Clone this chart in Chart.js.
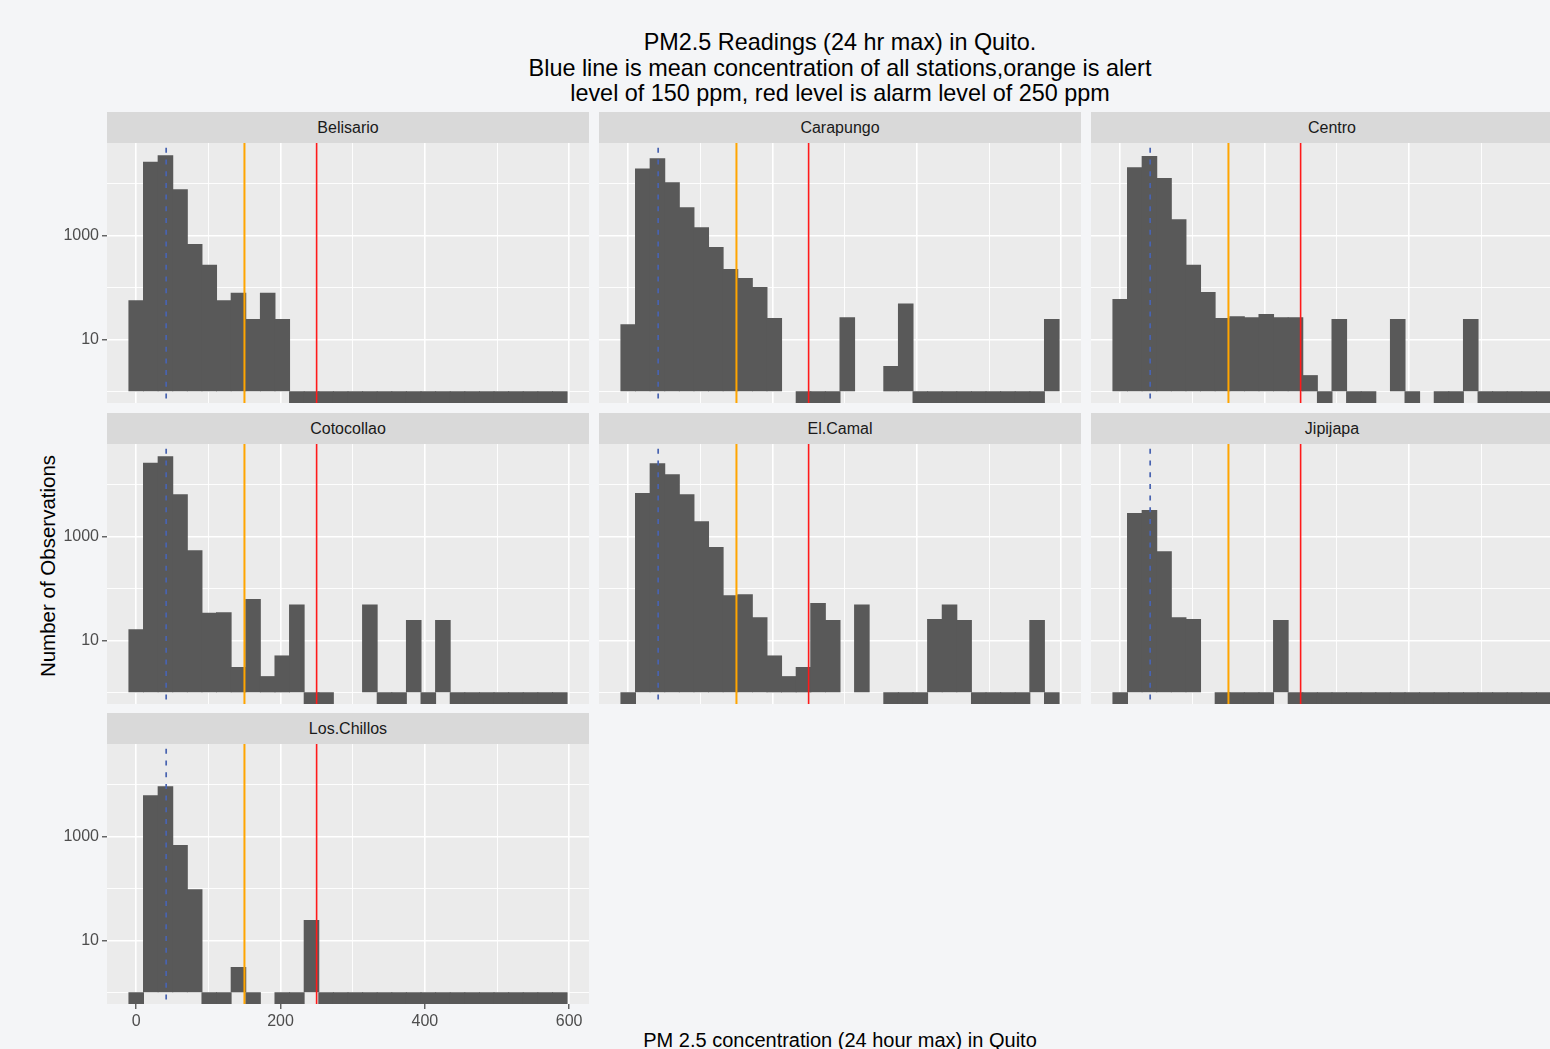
<!DOCTYPE html>
<html>
<head>
<meta charset="utf-8">
<script src="https://cdn.jsdelivr.net/npm/chart.js@4.4.1/dist/chart.umd.min.js"></script>
<style>
  html, body { margin: 0; padding: 0; background: #f4f5f7; overflow: hidden; width: 1550px; height: 1049px; }
  body { position: relative; font-family: "Liberation Sans", Arial, Helvetica, sans-serif; }
  .title { position: absolute; left: 340px; width: 1000px; top: 30px; text-align: center; font-size: 23.4px; line-height: 25.5px; color: #000; }
  .strip { position: absolute; background: #d9d9d9; color: #1a1a1a; font-size: 16px; text-align: center; white-space: nowrap; overflow: hidden; }
  .ytitle { position: absolute; width: 300px; height: 24px; line-height: 24px; text-align: center; font-size: 20.5px; color: #000; transform: rotate(-90deg); }
  .xtitle { position: absolute; width: 800px; height: 24px; line-height: 24px; text-align: center; font-size: 20px; color: #000; }
  canvas { position: absolute; }
</style>
</head>
<body>
<div class="title">PM2.5 Readings (24 hr max) in Quito.<br>Blue line is mean concentration of all stations,orange is alert<br>level of 150 ppm, red level is alarm level of 250 ppm</div>
<div class="ytitle" style="left:-102px; top:554px;">Number of Observations</div>
<div class="xtitle" style="left:440px; top:1028px;">PM 2.5 concentration (24 hour max) in Quito</div>
<div id="panels"></div>
<script>
// ---------------- data ----------------
const stations = ['Belisario', 'Carapungo', 'Centro', 'Cotocollao', 'El.Camal', 'Jipijapa', 'Los.Chillos'];

// histogram bin centres (30 bins)
const binCenters = [0, 20.2, 40.5, 60.7, 81, 101.2, 121.4, 141.7, 161.9, 182.2,
                    202.4, 222.6, 242.9, 263.1, 283.4, 303.6, 323.8, 344.1, 364.3, 384.6,
                    404.8, 425, 445.3, 465.5, 485.8, 506, 526.2, 546.5, 566.7, 587];

// counts per bin
const belisario  = [55, 25300, 34000, 7550, 662, 265, 55, 77, 24, 77, 24, 0, 0, 0, 0, 0, 0, 0, 0, 0, 0, 0, 0, 0, 0, 0, 0, 0, 0, 0];
const carapungo  = [19, 18900, 29800, 10300, 3400, 1400, 580, 219, 147, 99, 25, 1, 0, 0, 0, 26, 1, 1, 3, 48, 0, 0, 0, 0, 0, 0, 0, 0, 0, 24];
const centro     = [58, 20000, 32600, 12300, 2000, 265, 79, 25, 27, 26, 30, 26, 26, 2, 0, 24, 0, 0, 1, 24, 0, 1, 0, 0, 24, 0, 0, 0, 0, 0];
const cotocollao = [16, 25300, 34000, 6330, 530, 33, 34, 3, 61, 2, 5, 48, 0, 0, 1, 1, 48, 0, 0, 24, 0, 24, 0, 0, 0, 0, 0, 0, 0, 0];
const elCamal    = [0, 6620, 24900, 15300, 6330, 1910, 606, 72, 75, 27, 5, 2, 3, 51, 24, 1, 48, 1, 0, 0, 0, 25, 48, 24, 0, 0, 0, 0, 24, 0];
const jipijapa   = [0, 2730, 3120, 507, 27, 25, 1, 0, 0, 0, 0, 24, 0, 0, 0, 0, 0, 0, 0, 0, 0, 0, 0, 0, 0, 0, 0, 0, 0, 0];
const losChillos = [0, 6050, 9020, 662, 94, 0, 0, 3, 0, 1, 0, 0, 24, 0, 0, 0, 0, 0, 0, 0, 0, 0, 0, 0, 0, 0, 0, 0, 0, 0];
const stationCounts = [belisario, carapungo, centro, cotocollao, elCamal, jipijapa, losChillos];

// reference lines
const meanConcentration = 41.5;
const alertLevel = 150;
const alarmLevel = 250;

// tick values / labels
const yTickValues = [1, 10, 100, 1000, 10000];
const yTickLabels = ['', '10', '', '1000', ''];
const xTickValues = [0, 100, 200, 300, 400, 500, 600];
const xTickLabels = ['0', '', '200', '', '400', '', '600'];

// ---------------- layout ----------------
const FONT = '"Liberation Sans", Arial, Helvetica, sans-serif';
Chart.defaults.font.family = FONT;
const colLeft = [107, 599, 1091];
const plotTop = [143, 444, 744];
const W = 482, H = 260, YW = 50, XH = 34, STRIP = 31;
const XMIN = -40.5, XMAX = 627.5;
const YMIN = -0.225, YMAX = 4.775;

const toLog = c => c > 0 ? Math.log10(c) : YMIN;

const panelBg = {
  id: 'panelBg',
  beforeDraw(chart) {
    const { ctx, chartArea: a } = chart;
    ctx.save();
    ctx.fillStyle = '#ebebeb';
    ctx.fillRect(a.left, a.top, a.right - a.left, a.bottom - a.top);
    ctx.restore();
  }
};

const root = document.getElementById('panels');

stations.forEach((name, i) => {
  const r = Math.floor(i / 3), c = i % 3;
  const showY = c === 0;
  const showX = i === 6;

  const strip = document.createElement('div');
  strip.className = 'strip';
  strip.style.left = colLeft[c] + 'px';
  strip.style.top = (plotTop[r] - STRIP) + 'px';
  strip.style.width = W + 'px';
  strip.style.height = STRIP + 'px';
  strip.style.lineHeight = (STRIP + 1) + 'px';
  strip.textContent = name;
  root.appendChild(strip);

  const cv = document.createElement('canvas');
  const cw = W + (showY ? YW : 0);
  const ch = H + (showX ? XH : 0);
  cv.width = cw; cv.height = ch;
  cv.style.width = cw + 'px'; cv.style.height = ch + 'px';
  cv.style.left = (colLeft[c] - (showY ? YW : 0)) + 'px';
  cv.style.top = plotTop[r] + 'px';
  root.appendChild(cv);

  const counts = stationCounts[i];
  const vline = (x, color, width, extra) => Object.assign({
    type: 'line',
    data: [{ x: x, y: YMAX }, { x: x, y: YMIN }],
    borderColor: color, borderWidth: width, pointRadius: 0, fill: false
  }, extra || {});

  new Chart(cv, {
    type: 'bar',
    data: {
      datasets: [
        {
          type: 'bar',
          data: binCenters.map((x, k) => ({ x: x, y: toLog(counts[k]) })),
          backgroundColor: '#595959',
          borderWidth: 0,
          barPercentage: 1,
          categoryPercentage: 1,
          inflateAmount: ctx => (ctx.parsed && ctx.parsed.y === 0) ? 0 : 0.5,
          order: 10
        },
        vline(meanConcentration, '#4863b0', 1.7, { borderDash: [5, 6.7], borderDashOffset: 6.9, order: 2 }),
        vline(alertLevel, '#ffa500', 2, { order: 1 }),
        vline(alarmLevel, '#ff1a1a', 1.6, { order: 0 })
      ]
    },
    options: {
      responsive: false,
      animation: false,
      devicePixelRatio: 1,
      layout: { padding: 0 },
      plugins: { legend: { display: false }, tooltip: { enabled: false } },
      scales: {
        x: {
          type: 'linear', min: XMIN, max: XMAX, offset: false,
          border: { display: false },
          grid: {
            offset: false,
            color: '#ffffff',
            lineWidth: ctx => xTickLabels[ctx.index] !== '' ? 1.6 : 0.9,
            drawTicks: showX,
            tickLength: 5,
            tickWidth: 1.1,
            tickColor: ctx => (showX && xTickLabels[ctx.index] !== '') ? '#333333' : 'rgba(0,0,0,0)'
          },
          ticks: {
            display: showX, autoSkip: false, maxRotation: 0, padding: 3,
            color: '#4d4d4d', font: { size: 16, family: FONT },
            callback: (v, idx) => xTickLabels[idx]
          },
          afterBuildTicks: s => { s.ticks = xTickValues.map(v => ({ value: v })); },
          afterFit: s => { s.height = showX ? XH : 0; s.paddingLeft = 0; s.paddingRight = 0; }
        },
        y: {
          type: 'linear', min: YMIN, max: YMAX,
          border: { display: false },
          grid: {
            color: '#ffffff',
            lineWidth: ctx => yTickLabels[ctx.index] !== '' ? 1.6 : 0.9,
            drawTicks: showY,
            tickLength: 5,
            tickWidth: 1.1,
            tickColor: ctx => (showY && yTickLabels[ctx.index] !== '') ? '#333333' : 'rgba(0,0,0,0)'
          },
          ticks: {
            display: showY, autoSkip: false, padding: 3,
            color: '#4d4d4d', font: { size: 16, family: FONT },
            callback: (v, idx) => yTickLabels[idx]
          },
          afterBuildTicks: s => { s.ticks = yTickValues.map(v => ({ value: Math.log10(v) })); },
          afterFit: s => { s.width = showY ? YW : 0; s.paddingTop = 0; s.paddingBottom = 0; }
        }
      }
    },
    plugins: [panelBg]
  });
});
</script>
</body>
</html>
